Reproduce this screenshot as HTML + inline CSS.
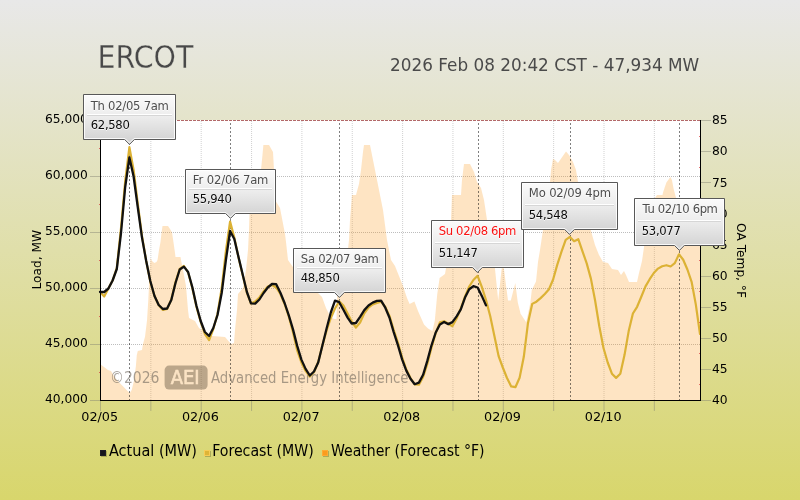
<!DOCTYPE html>
<html lang="en"><head><meta charset="utf-8"><title>ERCOT Load Forecast</title>
<style>html,body{margin:0;padding:0;background:#e8e8e8}body{width:800px;height:500px;overflow:hidden}svg{display:block;will-change:transform}</style></head>
<body>
<svg width="800" height="500" viewBox="0 0 800 500" font-family="'DejaVu Sans', 'Liberation Sans', sans-serif">
<defs><linearGradient id="bg" x1="0" y1="0" x2="0" y2="1"><stop offset="0" stop-color="#e8e8e8"/><stop offset="1" stop-color="#d8d66c"/></linearGradient><linearGradient id="tg" x1="0" y1="0" x2="0" y2="1"><stop offset="0" stop-color="#fbfbfb"/><stop offset=".45" stop-color="#ececec"/><stop offset="1" stop-color="#cfcfcf"/></linearGradient><linearGradient id="bgu" gradientUnits="userSpaceOnUse" x1="0" y1="0" x2="0" y2="500"><stop offset="0" stop-color="#e8e8e8"/><stop offset="1" stop-color="#d8d66c"/></linearGradient><clipPath id="cp"><rect x="100" y="120" width="601" height="280"/></clipPath></defs>
<rect width="800" height="500" fill="url(#bg)"/>
<rect x="100" y="120" width="601" height="281" fill="#fff"/>
<line x1="101" x2="700" y1="176.5" y2="176.5" stroke="#bdbdbd" stroke-width="1" stroke-dasharray="1 1"/>
<line x1="101" x2="700" y1="232.5" y2="232.5" stroke="#bdbdbd" stroke-width="1" stroke-dasharray="1 1"/>
<line x1="101" x2="700" y1="288.5" y2="288.5" stroke="#bdbdbd" stroke-width="1" stroke-dasharray="1 1"/>
<line x1="101" x2="700" y1="344.5" y2="344.5" stroke="#bdbdbd" stroke-width="1" stroke-dasharray="1 1"/>
<line x1="101" x2="700" y1="120.5" y2="120.5" stroke="#a04444" stroke-opacity=".8" stroke-width="1" stroke-dasharray="3 1"/>
<line x1="150.85" x2="150.85" y1="121" y2="400" stroke="#b4b4b4" stroke-opacity=".62" stroke-width="1" stroke-dasharray="1 1"/>
<line x1="201.2" x2="201.2" y1="121" y2="400" stroke="#b4b4b4" stroke-opacity=".62" stroke-width="1" stroke-dasharray="1 1"/>
<line x1="251.55" x2="251.55" y1="121" y2="400" stroke="#b4b4b4" stroke-opacity=".62" stroke-width="1" stroke-dasharray="1 1"/>
<line x1="301.9" x2="301.9" y1="121" y2="400" stroke="#b4b4b4" stroke-opacity=".62" stroke-width="1" stroke-dasharray="1 1"/>
<line x1="352.25" x2="352.25" y1="121" y2="400" stroke="#b4b4b4" stroke-opacity=".62" stroke-width="1" stroke-dasharray="1 1"/>
<line x1="402.6" x2="402.6" y1="121" y2="400" stroke="#b4b4b4" stroke-opacity=".62" stroke-width="1" stroke-dasharray="1 1"/>
<line x1="452.95" x2="452.95" y1="121" y2="400" stroke="#b4b4b4" stroke-opacity=".62" stroke-width="1" stroke-dasharray="1 1"/>
<line x1="503.3" x2="503.3" y1="121" y2="400" stroke="#b4b4b4" stroke-opacity=".62" stroke-width="1" stroke-dasharray="1 1"/>
<line x1="553.65" x2="553.65" y1="121" y2="400" stroke="#b4b4b4" stroke-opacity=".62" stroke-width="1" stroke-dasharray="1 1"/>
<line x1="604.0" x2="604.0" y1="121" y2="400" stroke="#b4b4b4" stroke-opacity=".62" stroke-width="1" stroke-dasharray="1 1"/>
<line x1="654.35" x2="654.35" y1="121" y2="400" stroke="#b4b4b4" stroke-opacity=".62" stroke-width="1" stroke-dasharray="1 1"/>
<polygon points="100.0,400.0 100.0,364.0 104.0,367.0 108.0,370.0 111.0,371.0 115.4,378.5 120.5,383.7 126.6,390.0 129.7,393.0 131.7,390.0 133.8,381.6 135.8,367.0 136.8,355.0 137.8,351.0 142.0,350.0 143.0,344.0 145.0,336.7 147.0,320.4 148.3,300.0 148.8,290.0 149.4,270.0 150.6,258.0 152.0,261.0 154.3,263.0 156.5,262.0 157.5,260.0 158.0,257.0 159.0,250.0 160.5,242.0 161.5,233.0 162.5,226.0 168.0,226.0 170.0,229.0 172.0,232.5 173.0,239.0 174.0,246.0 175.0,253.0 175.5,257.0 180.5,257.0 181.0,260.0 183.0,270.0 186.0,286.0 188.0,310.0 189.0,318.0 195.0,321.0 199.0,328.0 205.0,332.0 209.0,334.0 212.0,336.0 225.0,337.0 231.0,344.0 234.0,343.0 235.0,330.0 237.0,310.0 238.0,294.0 243.0,288.0 246.0,270.0 248.0,250.0 249.0,230.0 249.5,214.0 253.0,214.0 253.5,195.0 260.0,195.0 261.0,170.0 262.0,160.0 263.4,145.0 269.0,145.0 273.0,152.0 274.0,170.0 275.0,200.0 280.0,208.0 285.0,234.0 286.0,242.0 288.0,260.0 295.0,270.0 318.0,293.0 322.0,297.0 326.0,308.0 330.0,316.0 334.0,319.0 336.5,319.0 337.2,295.0 337.5,250.0 348.0,249.0 349.0,240.0 350.0,220.0 352.0,195.0 356.0,195.0 359.0,184.0 361.0,170.0 363.0,152.0 364.0,145.0 370.0,145.0 371.0,150.0 375.0,170.0 379.0,190.0 383.0,210.0 387.0,240.0 391.0,260.0 395.0,266.0 399.0,276.0 403.0,286.0 407.0,298.0 409.6,304.0 414.4,301.6 418.0,311.0 424.0,324.4 428.0,328.5 432.4,331.0 434.8,320.8 437.2,294.4 439.6,278.0 445.0,274.0 446.0,268.0 449.0,250.0 451.0,220.0 452.0,195.0 461.0,195.0 462.0,180.0 464.0,164.0 470.0,164.0 474.0,172.0 477.0,182.0 481.0,188.0 484.0,200.0 487.0,220.0 490.0,250.0 494.7,266.0 498.2,300.5 501.7,268.3 503.8,268.0 508.0,300.5 510.8,300.5 515.3,283.0 517.8,302.6 520.6,313.8 526.2,322.2 530.4,302.6 531.8,290.0 536.0,281.6 538.0,262.0 540.0,250.0 543.0,230.0 548.0,200.0 550.0,182.0 551.0,170.0 553.0,159.0 555.0,160.0 558.0,163.0 566.0,151.6 569.0,155.0 573.0,162.0 576.0,170.0 578.0,182.0 582.0,200.0 588.0,222.0 591.0,231.0 595.0,245.0 599.0,255.0 603.0,262.0 608.0,263.0 612.0,269.0 618.0,270.0 621.0,275.0 624.0,271.0 626.0,275.0 629.0,282.0 637.0,282.0 639.0,273.0 642.0,261.0 644.0,247.0 647.0,225.0 652.0,205.0 655.0,198.0 657.0,195.0 662.5,195.0 663.0,192.6 666.4,182.5 670.4,177.0 672.0,180.2 673.7,189.2 676.0,197.7 685.0,215.0 700.0,228.0 700.0,400.0" fill="#fb9718" fill-opacity=".26" clip-path="url(#cp)"/>
<line x1="129.5" x2="129.5" y1="121" y2="400" stroke="#000" stroke-opacity=".5" stroke-width="1" stroke-dasharray="2 2" stroke-dashoffset="2"/>
<line x1="230.5" x2="230.5" y1="121" y2="400" stroke="#000" stroke-opacity=".5" stroke-width="1" stroke-dasharray="2 2" stroke-dashoffset="2"/>
<line x1="339.5" x2="339.5" y1="121" y2="400" stroke="#000" stroke-opacity=".5" stroke-width="1" stroke-dasharray="2 2" stroke-dashoffset="2"/>
<line x1="478.5" x2="478.5" y1="121" y2="400" stroke="#000" stroke-opacity=".5" stroke-width="1" stroke-dasharray="2 2" stroke-dashoffset="2"/>
<line x1="570.5" x2="570.5" y1="121" y2="400" stroke="#000" stroke-opacity=".5" stroke-width="1" stroke-dasharray="2 2" stroke-dashoffset="2"/>
<line x1="679.5" x2="679.5" y1="121" y2="400" stroke="#000" stroke-opacity=".5" stroke-width="1" stroke-dasharray="2 2" stroke-dashoffset="2"/>
<g opacity=".58" fill="#6a6258" font-size="16.2" font-family="'DejaVu Sans Condensed','DejaVu Sans',sans-serif"><text x="110" y="383.2" textLength="49.5" lengthAdjust="spacingAndGlyphs">©2026</text><text x="211" y="383.2" textLength="197.5" lengthAdjust="spacingAndGlyphs">Advanced Energy Intelligence</text></g><rect x="164.6" y="365.6" width="43" height="24" rx="4.5" fill="#6b5a45" opacity=".45"/><text x="185.2" y="384" font-size="19.2" stroke="#fbe3c4" stroke-width=".55" fill="#fbe3c4" text-anchor="middle" font-family="'DejaVu Sans Condensed','DejaVu Sans',sans-serif" textLength="29" lengthAdjust="spacingAndGlyphs">AEI</text>
<polyline points="100.0,292.0 104.2,296.5 108.4,288.5 112.6,280.5 116.8,268.0 121.0,228.0 125.2,181.0 129.4,147.1 133.6,170.0 137.8,204.0 142.0,236.0 146.2,261.0 150.3,281.5 154.5,296.0 158.7,305.0 162.9,310.0 167.1,309.0 171.3,299.5 175.5,282.0 179.7,269.0 183.9,266.0 188.1,272.5 192.3,288.0 196.5,307.0 200.7,322.0 204.9,334.0 209.1,340.0 213.3,329.0 217.5,314.0 221.7,288.0 225.9,251.0 230.1,221.5 234.3,237.5 238.5,257.5 242.7,275.2 246.9,292.5 251.0,303.5 255.2,301.5 259.4,297.5 263.6,291.5 267.8,286.5 272.0,285.0 276.2,287.5 280.4,294.0 284.6,304.0 288.8,316.4 293.0,332.2 297.2,350.4 301.4,362.5 305.6,370.9 309.8,376.5 314.0,372.0 318.2,362.0 322.4,345.5 326.6,330.5 330.8,318.0 335.0,308.5 339.2,301.4 343.4,305.5 347.6,313.5 351.7,321.5 355.9,327.5 360.1,322.5 364.3,313.3 368.5,307.5 372.7,304.4 376.9,303.0 381.1,301.8 385.3,306.9 389.5,315.9 393.7,330.0 397.9,342.7 402.1,357.3 406.3,369.6 410.5,378.0 414.7,384.5 418.9,384.7 423.1,377.0 427.3,363.9 431.5,347.4 435.7,333.1 439.9,322.3 444.1,321.2 448.3,323.8 452.4,326.2 456.6,318.5 460.8,308.4 465.0,296.6 469.2,286.5 473.4,280.0 477.6,275.8 481.8,286.9 486.0,300.0 490.2,316.0 494.4,335.9 498.6,356.1 502.8,367.5 507.0,378.0 511.2,386.4 515.4,387.2 519.6,377.7 523.8,356.8 528.0,322.9 532.2,303.9 536.4,301.7 540.6,298.1 544.8,294.0 549.0,289.2 553.1,279.5 557.3,264.6 561.5,251.7 565.7,239.8 569.9,236.9 574.1,241.2 578.3,239.2 582.5,251.3 586.7,263.4 590.9,278.6 595.1,300.5 599.3,326.2 603.5,348.0 607.7,362.5 611.9,373.7 616.1,377.9 620.3,373.8 624.5,355.1 628.7,331.1 632.9,313.5 637.1,306.8 641.3,296.8 645.5,286.4 649.7,279.2 653.8,273.0 658.0,268.6 662.2,266.2 666.4,265.2 670.6,266.5 674.8,263.1 679.0,254.3 683.2,259.7 687.4,269.5 691.6,281.8 695.8,304.4 700.0,334.0" fill="none" stroke="#dcb235" stroke-width="2.2" stroke-linejoin="round" stroke-linecap="round" clip-path="url(#cp)"/>
<polyline points="100.0,292.0 104.2,292.0 108.4,288.5 112.6,280.5 116.8,269.0 121.0,233.0 125.2,187.0 129.4,157.5 133.6,176.5 137.8,207.5 142.0,237.6 146.2,261.0 150.3,281.0 154.5,296.0 158.7,305.0 162.9,309.0 167.1,308.5 171.3,300.0 175.5,283.0 179.7,269.5 183.9,266.6 188.1,272.0 192.3,287.0 196.5,306.0 200.7,321.0 204.9,332.0 209.1,336.0 213.3,328.0 217.5,315.0 221.7,293.0 225.9,260.0 230.1,231.0 234.3,239.0 238.5,257.0 242.7,274.6 246.9,292.0 251.0,303.3 255.2,303.6 259.4,299.5 263.6,293.0 267.8,287.5 272.0,284.0 276.2,284.2 280.4,292.8 284.6,303.0 288.8,315.4 293.0,329.4 297.2,345.9 301.4,359.6 305.6,368.9 309.8,375.5 314.0,371.5 318.2,362.5 322.4,345.5 326.6,328.5 330.8,312.5 335.0,300.7 339.2,302.2 343.4,309.7 347.6,317.6 351.7,323.5 355.9,323.0 360.1,316.8 364.3,310.1 368.5,305.5 372.7,302.6 376.9,300.9 381.1,300.6 385.3,307.7 389.5,317.8 393.7,332.1 397.9,345.2 402.1,359.3 406.3,370.6 410.5,378.7 414.7,384.2 418.9,382.6 423.1,374.8 427.3,360.9 431.5,345.3 435.7,332.5 439.9,324.5 444.1,322.0 448.3,324.1 452.4,322.1 456.6,316.3 460.8,309.3 465.0,297.6 469.2,289.2 473.4,286.2 477.6,287.5 481.8,295.9 486.0,305.4" fill="none" stroke="#111" stroke-width="2.3" stroke-linejoin="round" stroke-linecap="round"/>
<rect x="100" y="120" width="1" height="281" fill="#000"/>
<rect x="700" y="120" width="1" height="281" fill="#000"/>
<rect x="100" y="400" width="601" height="1" fill="#000"/>
<rect x="99.2" y="148" width=".8" height="1" fill="#d84848"/>
<rect x="99.2" y="204" width=".8" height="1" fill="#d84848"/>
<rect x="99.2" y="260" width=".8" height="1" fill="#d84848"/>
<rect x="99.2" y="316" width=".8" height="1" fill="#d84848"/>
<rect x="99.2" y="372" width=".8" height="1" fill="#d84848"/>
<rect x="699.2" y="136" width=".8" height="1" fill="#e05050"/>
<rect x="699.2" y="167" width=".8" height="1" fill="#e05050"/>
<rect x="699.2" y="198" width=".8" height="1" fill="#e05050"/>
<rect x="699.2" y="229" width=".8" height="1" fill="#e05050"/>
<rect x="699.2" y="260" width=".8" height="1" fill="#e05050"/>
<rect x="699.2" y="291" width=".8" height="1" fill="#e05050"/>
<rect x="699.2" y="322" width=".8" height="1" fill="#e05050"/>
<rect x="699.2" y="353" width=".8" height="1" fill="#e05050"/>
<rect x="699.2" y="384" width=".8" height="1" fill="#e05050"/>
<rect x="90" y="120" width="10" height="1" fill="#808070" fill-opacity=".45"/>
<text x="87.9" y="123.2" font-size="12.25" text-anchor="end" fill="#000">65,000</text>
<rect x="90" y="176" width="10" height="1" fill="#808070" fill-opacity=".45"/>
<text x="87.9" y="179.2" font-size="12.25" text-anchor="end" fill="#000">60,000</text>
<rect x="90" y="232" width="10" height="1" fill="#808070" fill-opacity=".45"/>
<text x="87.9" y="235.2" font-size="12.25" text-anchor="end" fill="#000">55,000</text>
<rect x="90" y="288" width="10" height="1" fill="#808070" fill-opacity=".45"/>
<text x="87.9" y="291.2" font-size="12.25" text-anchor="end" fill="#000">50,000</text>
<rect x="90" y="344" width="10" height="1" fill="#808070" fill-opacity=".45"/>
<text x="87.9" y="347.2" font-size="12.25" text-anchor="end" fill="#000">45,000</text>
<rect x="90" y="400" width="10" height="1" fill="#808070" fill-opacity=".45"/>
<text x="87.9" y="403.2" font-size="12.25" text-anchor="end" fill="#000">40,000</text>
<rect x="701" y="120" width="10" height="1" fill="#808070" fill-opacity=".45"/>
<text x="711.9" y="124.3" font-size="12.3" fill="#000">85</text>
<rect x="701" y="151" width="10" height="1" fill="#808070" fill-opacity=".45"/>
<text x="711.9" y="155.4" font-size="12.3" fill="#000">80</text>
<rect x="701" y="182" width="10" height="1" fill="#808070" fill-opacity=".45"/>
<text x="711.9" y="186.5" font-size="12.3" fill="#000">75</text>
<rect x="701" y="213" width="10" height="1" fill="#808070" fill-opacity=".45"/>
<text x="711.9" y="217.6" font-size="12.3" fill="#000">70</text>
<rect x="701" y="244" width="10" height="1" fill="#808070" fill-opacity=".45"/>
<text x="711.9" y="248.7" font-size="12.3" fill="#000">65</text>
<rect x="701" y="276" width="10" height="1" fill="#808070" fill-opacity=".45"/>
<text x="711.9" y="279.9" font-size="12.3" fill="#000">60</text>
<rect x="701" y="307" width="10" height="1" fill="#808070" fill-opacity=".45"/>
<text x="711.9" y="311.0" font-size="12.3" fill="#000">55</text>
<rect x="701" y="338" width="10" height="1" fill="#808070" fill-opacity=".45"/>
<text x="711.9" y="342.1" font-size="12.3" fill="#000">50</text>
<rect x="701" y="369" width="10" height="1" fill="#808070" fill-opacity=".45"/>
<text x="711.9" y="373.2" font-size="12.3" fill="#000">45</text>
<rect x="701" y="400" width="10" height="1" fill="#808070" fill-opacity=".45"/>
<text x="711.9" y="404.3" font-size="12.3" fill="#000">40</text>
<rect x="100.0" y="401" width="1" height="10" fill="#808070" fill-opacity=".45"/>
<rect x="150.35" y="401" width="1" height="10" fill="#808070" fill-opacity=".45"/>
<rect x="200.7" y="401" width="1" height="10" fill="#808070" fill-opacity=".45"/>
<rect x="251.05" y="401" width="1" height="10" fill="#808070" fill-opacity=".45"/>
<rect x="301.4" y="401" width="1" height="10" fill="#808070" fill-opacity=".45"/>
<rect x="351.75" y="401" width="1" height="10" fill="#808070" fill-opacity=".45"/>
<rect x="402.1" y="401" width="1" height="10" fill="#808070" fill-opacity=".45"/>
<rect x="452.45" y="401" width="1" height="10" fill="#808070" fill-opacity=".45"/>
<rect x="502.8" y="401" width="1" height="10" fill="#808070" fill-opacity=".45"/>
<rect x="553.15" y="401" width="1" height="10" fill="#808070" fill-opacity=".45"/>
<rect x="603.5" y="401" width="1" height="10" fill="#808070" fill-opacity=".45"/>
<rect x="653.85" y="401" width="1" height="10" fill="#808070" fill-opacity=".45"/>
<text x="99.7" y="420.8" font-size="12.8" text-anchor="middle" fill="#000">02/05</text>
<text x="200.4" y="420.8" font-size="12.8" text-anchor="middle" fill="#000">02/06</text>
<text x="301.1" y="420.8" font-size="12.8" text-anchor="middle" fill="#000">02/07</text>
<text x="401.8" y="420.8" font-size="12.8" text-anchor="middle" fill="#000">02/08</text>
<text x="502.5" y="420.8" font-size="12.8" text-anchor="middle" fill="#000">02/09</text>
<text x="603.2" y="420.8" font-size="12.8" text-anchor="middle" fill="#000">02/10</text>
<text transform="translate(41.1,259.7) rotate(-90)" font-size="12.2" text-anchor="middle" fill="#000">Load, MW</text>
<text transform="translate(737,260.5) rotate(90)" font-size="12.2" text-anchor="middle" fill="#000">OA Temp, °F</text>
<g font-size="11.6"><path d="M83.5,94.5H175.5V139.5H134.4L129.5,144.4L124.6,139.5H83.5Z" fill="url(#tg)" stroke="#585858" stroke-width="1"/><path d="M84.5,95.5H174.5V138.5H134.0L129.5,143.0L125.0,138.5H84.5Z" fill="none" stroke="#fff" stroke-width="1" opacity=".85"/><rect x="87.0" y="114.0" width="85.0" height="1" fill="#fff"/><rect x="87.0" y="115.0" width="85.0" height="1" fill="#d6d6d6"/><text x="90.8" y="110.8" fill="#fff" opacity=".8" textLength="78.1">Th 02/05 7am</text><text x="90.8" y="109.8" fill="#4d4d4d" textLength="78.1">Th 02/05 7am</text><text x="90.8" y="129.5" fill="#fff" opacity=".8" textLength="39.0">62,580</text><text x="90.8" y="128.5" fill="#0a0a0a" textLength="39.0">62,580</text></g>
<g font-size="11.6"><path d="M185.5,169.5H275.5V213.5H235.4L230.5,218.4L225.6,213.5H185.5Z" fill="url(#tg)" stroke="#585858" stroke-width="1"/><path d="M186.5,170.5H274.5V212.5H235.0L230.5,217.0L226.0,212.5H186.5Z" fill="none" stroke="#fff" stroke-width="1" opacity=".85"/><rect x="189.0" y="188.0" width="83.0" height="1" fill="#fff"/><rect x="189.0" y="189.0" width="83.0" height="1" fill="#d6d6d6"/><text x="192.8" y="185.0" fill="#fff" opacity=".8" textLength="75.6">Fr 02/06 7am</text><text x="192.8" y="184.0" fill="#4d4d4d" textLength="75.6">Fr 02/06 7am</text><text x="192.8" y="203.5" fill="#fff" opacity=".8" textLength="39.0">55,940</text><text x="192.8" y="202.5" fill="#0a0a0a" textLength="39.0">55,940</text></g>
<g font-size="11.6"><path d="M293.5,248.5H385.5V292.5H344.29999999999995L339.4,297.5L334.5,292.5H293.5Z" fill="url(#tg)" stroke="#585858" stroke-width="1"/><path d="M294.5,249.5H384.5V291.5H343.9L339.4,296.1L334.9,291.5H294.5Z" fill="none" stroke="#fff" stroke-width="1" opacity=".85"/><rect x="297.0" y="267.0" width="85.0" height="1" fill="#fff"/><rect x="297.0" y="268.0" width="85.0" height="1" fill="#d6d6d6"/><text x="300.8" y="264.0" fill="#fff" opacity=".8" textLength="78.1">Sa 02/07 9am</text><text x="300.8" y="263.0" fill="#4d4d4d" textLength="78.1">Sa 02/07 9am</text><text x="300.8" y="282.5" fill="#fff" opacity=".8" textLength="39.0">48,850</text><text x="300.8" y="281.5" fill="#0a0a0a" textLength="39.0">48,850</text></g>
<g font-size="11.6"><path d="M431.5,220.5H523.5V267.5H482.29999999999995L477.4,272.5L472.5,267.5H431.5Z" fill="url(#tg)" stroke="#585858" stroke-width="1"/><path d="M432.5,221.5H522.5V266.5H481.9L477.4,271.1L472.9,266.5H432.5Z" fill="none" stroke="#fff" stroke-width="1" opacity=".85"/><rect x="435.0" y="242.0" width="85.0" height="1" fill="#fff"/><rect x="435.0" y="243.0" width="85.0" height="1" fill="#d6d6d6"/><text x="438.8" y="236.0" fill="#fff" opacity=".8" textLength="77.6">Su 02/08 6pm</text><text x="438.8" y="235.0" fill="#fb1212" textLength="77.6">Su 02/08 6pm</text><text x="438.8" y="257.5" fill="#fff" opacity=".8" textLength="39.0">51,147</text><text x="438.8" y="256.5" fill="#0a0a0a" textLength="39.0">51,147</text></g>
<g font-size="11.6"><path d="M521.5,182.5H617.5V229.5H574.4L569.5,234.4L564.6,229.5H521.5Z" fill="url(#tg)" stroke="#585858" stroke-width="1"/><path d="M522.5,183.5H616.5V228.5H574.0L569.5,233.0L565.0,228.5H522.5Z" fill="none" stroke="#fff" stroke-width="1" opacity=".85"/><rect x="525.0" y="204.0" width="89.0" height="1" fill="#fff"/><rect x="525.0" y="205.0" width="89.0" height="1" fill="#d6d6d6"/><text x="528.8" y="198.0" fill="#fff" opacity=".8" textLength="82.3">Mo 02/09 4pm</text><text x="528.8" y="197.0" fill="#4d4d4d" textLength="82.3">Mo 02/09 4pm</text><text x="528.8" y="219.5" fill="#fff" opacity=".8" textLength="39.0">54,548</text><text x="528.8" y="218.5" fill="#0a0a0a" textLength="39.0">54,548</text></g>
<g font-size="11.6"><path d="M634.5,198.5H724.5V245.5H684.3L679.4,250.4L674.5,245.5H634.5Z" fill="url(#tg)" stroke="#585858" stroke-width="1"/><path d="M635.5,199.5H723.5V244.5H683.9L679.4,249.0L674.9,244.5H635.5Z" fill="none" stroke="#fff" stroke-width="1" opacity=".85"/><rect x="638.0" y="220.0" width="83.0" height="1" fill="#fff"/><rect x="638.0" y="221.0" width="83.0" height="1" fill="#d6d6d6"/><text x="642.5999999999999" y="214.0" fill="#fff" opacity=".8" textLength="75.3">Tu 02/10 6pm</text><text x="642.5999999999999" y="213.0" fill="#4d4d4d" textLength="75.3">Tu 02/10 6pm</text><text x="641.8" y="235.5" fill="#fff" opacity=".8" textLength="39.0">53,077</text><text x="641.8" y="234.5" fill="#0a0a0a" textLength="39.0">53,077</text></g>
<text x="97.45" y="68.4" font-size="32.6" fill="#484848" stroke="url(#bgu)" stroke-width=".3" textLength="95.9" lengthAdjust="spacingAndGlyphs" font-family="'DejaVu Sans Condensed','DejaVu Sans',sans-serif">ERCOT</text>
<text x="390.1" y="71.2" font-size="16.85" fill="#4a4a4a">2026 Feb 08 20:42 CST - 47,934 MW</text>
<rect x="101" y="451" width="6" height="6" fill="#5a5a20" fill-opacity=".35"/><rect x="100" y="450" width="6" height="6" fill="#1c1c26"/><rect x="101" y="451" width="4" height="4" fill="#15151c"/><text x="109" y="456.3" font-size="15.6" font-family="'DejaVu Sans Condensed','DejaVu Sans',sans-serif" lengthAdjust="spacingAndGlyphs" fill="#000" textLength="88">Actual (MW)</text>
<rect x="205" y="451" width="6" height="6" fill="#5a5a20" fill-opacity=".35"/><rect x="204" y="450" width="6" height="6" fill="#f8cb55"/><rect x="205" y="451" width="4" height="4" fill="#deb437"/><text x="212.2" y="456.3" font-size="15.6" font-family="'DejaVu Sans Condensed','DejaVu Sans',sans-serif" lengthAdjust="spacingAndGlyphs" fill="#000" textLength="101.6">Forecast (MW)</text>
<rect x="323" y="451" width="6" height="6" fill="#5a5a20" fill-opacity=".35"/><rect x="322" y="450" width="6" height="6" fill="#ffaa32"/><rect x="323" y="451" width="4" height="4" fill="#fb9c1e"/><text x="331" y="456.3" font-size="15.6" font-family="'DejaVu Sans Condensed','DejaVu Sans',sans-serif" lengthAdjust="spacingAndGlyphs" fill="#000" textLength="153.6">Weather (Forecast °F)</text>
</svg>
</body></html>
